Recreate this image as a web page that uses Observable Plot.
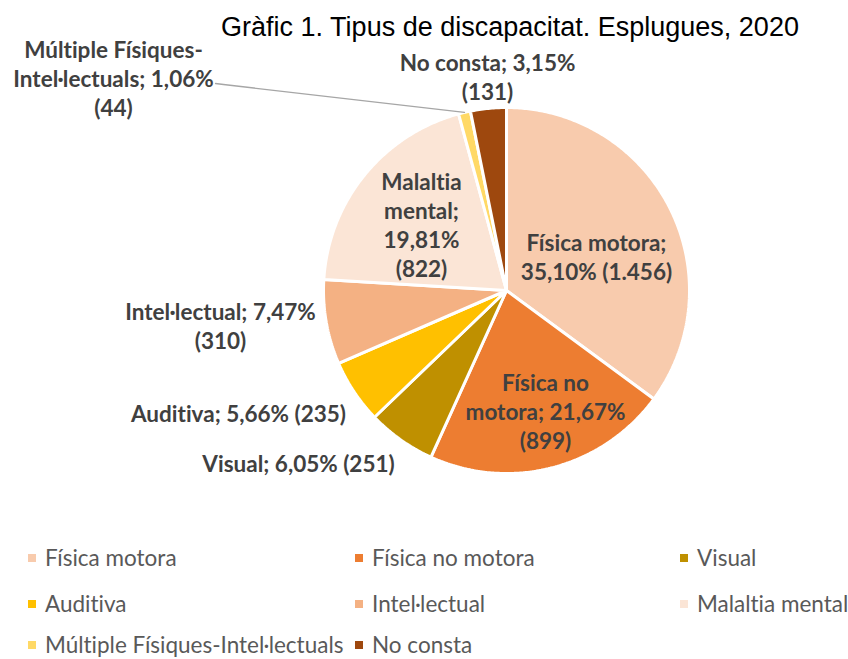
<!DOCTYPE html>
<html><head><meta charset="utf-8">
<script src="https://cdn.jsdelivr.net/npm/d3@7"></script>
<script src="https://cdn.jsdelivr.net/npm/@observablehq/plot@0.6"></script>
<style>
body{margin:0;background:#fff;width:848px;height:659px;overflow:hidden;position:relative;font-family:Lato,"Open Sans",sans-serif;font-variant-ligatures:none}
#title{position:absolute;top:12px;left:0;width:848px;text-align:center;font-family:"Liberation Sans",Arial,sans-serif;font-size:27px;line-height:31px;color:#000;padding-left:172px;box-sizing:border-box;white-space:nowrap;z-index:2}
#chart{position:absolute;top:0;left:0}
#chart svg text{font-variant-ligatures:none;font-feature-settings:"liga" 0}
#legend{position:absolute;top:0;left:0;width:848px;height:659px;pointer-events:none}
.item{position:absolute;display:flex;align-items:center;font-size:22.5px;line-height:22px;color:#595959;white-space:nowrap;height:22px;font-feature-settings:"liga" 0}
.sw{width:8px;height:8px;margin-right:9px;display:inline-block}
</style></head>
<body>
<div id="title"></div>
<div id="chart"></div>
<div id="legend"></div>
<script>
const titleText = "Gràfic 1. Tipus de discapacitat. Esplugues, 2020";
const categories = ["Física motora","Física no motora","Visual","Auditiva","Intel·lectual","Malaltia mental","Múltiple Físiques-Intel·lectuals","No consta"];
const counts = [1456, 899, 251, 235, 310, 822, 44, 131];
const percents = [35.10, 21.67, 6.05, 5.66, 7.47, 19.81, 1.06, 3.15];
const colors = ["#F8CBAD","#ED7D31","#BF9000","#FFC000","#F4B183","#FBE5D6","#FFD966","#9E480E"];
const labelTemplates = [
  "Física motora;\n{p} ({n})",
  "Física no\nmotora; {p}\n({n})",
  "Visual; {p} ({n})",
  "Auditiva; {p} ({n})",
  "Intel·lectual; {p}\n({n})",
  "Malaltia\nmental;\n{p}\n({n})",
  "Múltiple Físiques-\nIntel·lectuals; {p}\n({n})",
  "No consta; {p}\n({n})"
];

// layout (pixels relative to pie centre)
const W = 848, H = 525, CX = 506, CY = 290, R = 183;
const labelOffsets = [[90,-34],[39,120],[-208,172],[-268,122],[-286,35],[-85,-66],[-393,-213],[-19,-214]];
const leaderStart = [-291,-207];
const legendCols = [28, 355, 680];
const legendRows = [558, 604, 645];

document.getElementById("title").textContent = titleText;

const fmtP = p => p.toFixed(2).replace(".", ",") + "%";
const fmtN = n => d3.format(",")(n).replace(/,/g, ".");

const rows = categories.map((c, i) => ({cat: c, n: counts[i], p: percents[i], i}));
const arcs = d3.pie().sort(null).value(d => d.n)(rows);

const pts = [];
arcs.forEach(a => {
  const c = a.data.cat;
  pts.push({cat: c, x: 0, y: 0});
  const steps = Math.max(4, Math.ceil((a.endAngle - a.startAngle) / 0.01));
  for (let k = 0; k <= steps; k++) {
    const t = a.startAngle + (a.endAngle - a.startAngle) * k / steps;
    pts.push({cat: c, x: R * Math.sin(t), y: -R * Math.cos(t)});
  }
  pts.push({cat: c, x: 0, y: 0});
});

const labels = rows.map((d, i) => ({
  text: labelTemplates[i].replace("{p}", fmtP(d.p)).replace("{n}", fmtN(d.n)),
  x: labelOffsets[i][0], y: labelOffsets[i][1]
}));

const mult = arcs[6];
const mid = (mult.startAngle + mult.endAngle) / 2;
const leader = [
  {x: leaderStart[0], y: leaderStart[1]},
  {x: leaderStart[0] + 8, y: leaderStart[1] + 1},
  {x: R * Math.sin(mid), y: -R * Math.cos(mid)}
];

const chart = Plot.plot({
  width: W, height: H, margin: 0,
  x: {domain: [-CX, W - CX], range: [0, W], axis: null},
  y: {domain: [-CY, H - CY], range: [0, H], axis: null},
  color: {domain: categories, range: colors},
  marks: [
    Plot.line(pts, {x: "x", y: "y", z: "cat", fill: "cat", stroke: "white", strokeWidth: 3, strokeLinejoin: "miter"}),
    Plot.line(leader, {x: "x", y: "y", stroke: "#a6a6a6", strokeWidth: 1.3}),
    Plot.text(labels, {x: "x", y: "y", text: "text", fontSize: 22.5, fontWeight: "bold", fill: "#404040", fontFamily: "Lato", lineHeight: 1.29, textAnchor: "middle", lineAnchor: "middle"})
  ]
});
document.getElementById("chart").appendChild(chart);

const lg = document.getElementById("legend");
categories.forEach((c, i) => {
  const el = document.createElement("div");
  el.className = "item";
  el.style.left = legendCols[i % 3] + "px";
  el.style.top = (legendRows[Math.floor(i / 3)] - 11) + "px";
  el.innerHTML = `<span class="sw" style="background:${colors[i]}"></span><span></span>`;
  el.lastChild.textContent = c;
  lg.appendChild(el);
});
</script>
</body></html>
